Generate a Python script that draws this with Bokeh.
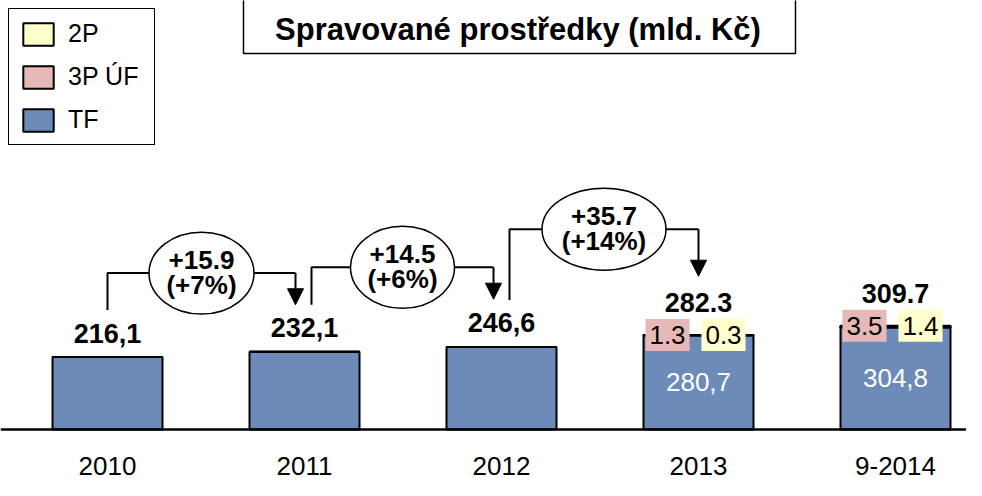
from bokeh.plotting import figure
from bokeh.models import Range1d, Span, Legend, LegendItem, Arrow, NormalHead, ColumnDataSource
from bokeh.embed import file_html
from bokeh.resources import INLINE
from bokeh.core.properties import value

# ---------------- data ----------------
categories = ["2010", "2011", "2012", "2013", "9-2014"]
tf_values = [216.1, 232.1, 246.6, 280.7, 304.8]
uf3p_values = [0.0, 0.0, 0.0, 1.3, 3.5]
p2_values = [0.0, 0.0, 0.0, 0.3, 1.4]
total_labels = ["216,1", "232,1", "246,6", "282.3", "309.7"]
tf_labels = ["", "", "", "280,7", "304,8"]
uf3p_labels = ["", "", "", "1.3", "3.5"]
p2_labels = ["", "", "", "0.3", "1.4"]
delta_abs = ["+15.9", "+14.5", "+35.7"]
delta_pct = ["(+7%)", "(+6%)", "(+14%)"]
series_names = ["TF", "3P ÚF", "2P"]
title_text = "Spravované prostředky (mld. Kč)"

# ---------------- layout helpers ----------------
W, H = 966, 480
STEP = 197.0      # px per category
X0 = 107.0        # px of first category centre
PXU = 0.335       # px per value unit
BASE_PX = 51.0    # baseline distance from bottom of frame

def ux(px):
    return px / STEP

def uy(px):
    return px / PXU

def sx(px_x):
    return (px_x - X0) / STEP

def sy(px_y):
    return (H - px_y - BASE_PX) / PXU

FONT = value("Liberation Sans")
C_TF = "#6D8BB8"
C_3P = "#E6B8B7"
C_2P = "#FFFFCC"

p = figure(width=W, height=H,
           x_range=Range1d(-X0 / STEP, (W - X0) / STEP),
           y_range=Range1d(-BASE_PX / PXU, (H - BASE_PX) / PXU),
           output_backend="svg", toolbar_location=None,
           x_axis_type=None, y_axis_type=None, min_border=0)
p.outline_line_color = None
p.background_fill_color = "white"

xs = list(range(len(categories)))
totals = [a + b + c for a, b, c in zip(tf_values, uf3p_values, p2_values)]
has_seg = [b > 0 for b in uf3p_values]

src = ColumnDataSource(dict(x=xs, tf=tf_values, uf=uf3p_values, p2=p2_values))
rs = p.vbar_stack(["tf", "uf", "p2"], x="x", width=ux(110), source=src,
                  fill_color=[C_TF, C_3P, C_2P], line_color="black", line_width=2)
r_tf, r_3p, r_2p = rs

# baseline
p.add_layout(Span(location=0, dimension="width", line_color="black", line_width=2.5))

# year labels
p.text(x=xs, y=[-uy(36)] * len(xs), text=categories, text_font=FONT,
       text_font_size="26px", text_align="center", text_baseline="middle", text_color="black")

# total labels
tot_y = [t + uy(32.5 if s else 24) for t, s in zip(totals, has_seg)]
p.text(x=xs, y=tot_y, text=total_labels, text_font=FONT, text_font_style="bold",
       text_font_size="27px", text_align="center", text_baseline="middle", text_color="black")

# TF labels inside stacked bars
idx = [i for i, s in enumerate(has_seg) if s]
p.text(x=[xs[i] for i in idx], y=[tf_values[i] / 2 for i in idx], text=[tf_labels[i] for i in idx],
       text_font=FONT, text_font_size="26px", text_align="center", text_baseline="middle",
       text_color="white")

# segment labels with coloured background
p.text(x=[xs[i] - ux(31) for i in idx], y=[totals[i] for i in idx], text=[uf3p_labels[i] for i in idx],
       text_font=FONT, text_font_size="26px", text_align="center", text_baseline="middle",
       text_color="black", background_fill_color=C_3P, padding=(4, 7))
p.text(x=[xs[i] + ux(25) for i in idx], y=[totals[i] for i in idx], text=[p2_labels[i] for i in idx],
       text_font=FONT, text_font_size="26px", text_align="center", text_baseline="middle",
       text_color="black", background_fill_color=C_2P, padding=(4, 7))

# growth arrows
start_dx = [0, 7, 8]
end_dx = [-9, -8, 0]
h_off = [84, 84.4, 117.7]
tip_off = [47, 47.7, 58.7]
ell_w = [105, 104, 124]
lx, ly, ex, ey, ax0, ay0, ay1 = [], [], [], [], [], [], []
for i in range(len(delta_abs)):
    xa = xs[i] + ux(start_dx[i])
    xb = xs[i + 1] + ux(end_dx[i])
    ya = totals[i] + uy(47)
    yh = totals[i] + uy(h_off[i])
    tip = totals[i + 1] + uy(tip_off[i])
    lx.append([xa, xa, xb])
    ly.append([ya, yh, yh])
    ex.append((xa + xb) / 2)
    ey.append(yh)
    ax0.append(xb)
    ay0.append(yh)
    ay1.append(tip)

p.multi_line(xs=lx, ys=ly, line_color="black", line_width=2)
esrc = ColumnDataSource(dict(x=ex, y=ey, w=ell_w, h=[82] * len(ex)))
p.ellipse(x="x", y="y", width="w", height="h", width_units="screen", height_units="screen",
          source=esrc, fill_color="white", line_color="black", line_width=1.5)
p.text(x=ex, y=[y + uy(13) for y in ey], text=delta_abs, text_font=FONT, text_font_style="bold",
       text_font_size="26px", text_align="center", text_baseline="middle", text_color="black")
p.text(x=ex, y=[y - uy(12) for y in ey], text=delta_pct, text_font=FONT, text_font_style="bold",
       text_font_size="26px", text_align="center", text_baseline="middle", text_color="black")
asrc = ColumnDataSource(dict(x0=ax0, y0=ay0, x1=ax0, y1=ay1))
p.add_layout(Arrow(end=NormalHead(size=16, fill_color="black", line_color="black"),
                   x_start="x0", y_start="y0", x_end="x1", y_end="y1", source=asrc,
                   line_color="black", line_width=2))

# title box
p.quad(left=[sx(243)], right=[sx(795)], top=[sy(-6)], bottom=[sy(53)],
       fill_color="white", line_color="black", line_width=1.5)
p.text(x=[sx(517.5)], y=[sy(29)], text=[title_text], text_font=FONT, text_font_style="bold",
       text_font_size="31px", text_align="center", text_baseline="middle", text_color="black")

# legend
legend = Legend(items=[LegendItem(label=series_names[2], renderers=[r_2p]),
                       LegendItem(label=series_names[1], renderers=[r_3p]),
                       LegendItem(label=series_names[0], renderers=[r_tf])],
                location="top_left", margin=8, padding=10, spacing=14,
                glyph_width=38, glyph_height=28, label_height=28, label_width=76,
                label_standoff=11, label_text_font="Liberation Sans", label_text_font_size="25px",
                label_text_color="black",
                border_line_color="black", border_line_width=1.5, border_line_alpha=1.0,
                background_fill_alpha=1.0)
p.add_layout(legend)

open("out.html", "w").write(file_html(p, INLINE))
